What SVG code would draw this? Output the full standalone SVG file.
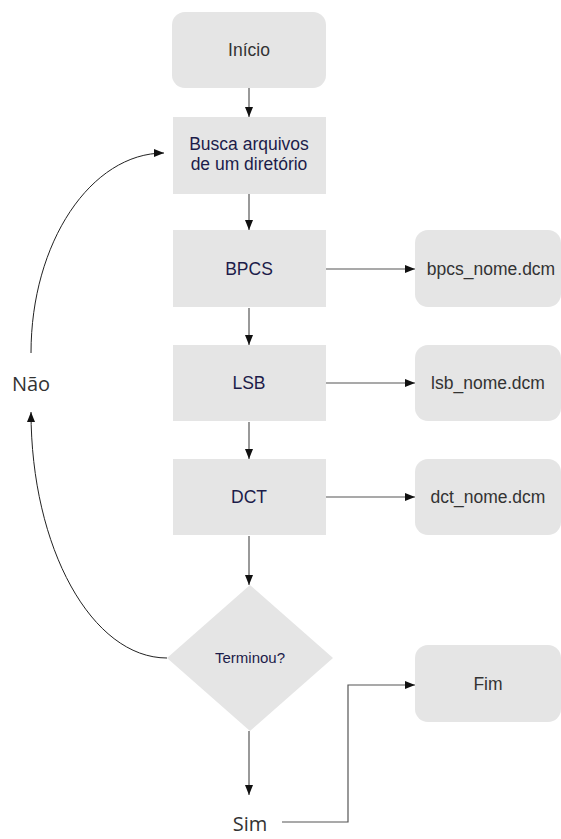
<svg xmlns="http://www.w3.org/2000/svg" width="561" height="839" viewBox="0 0 561 839">
  <defs>
    <marker id="arrow" viewBox="0 0 10 8" refX="10" refY="4" markerWidth="10" markerHeight="8" markerUnits="userSpaceOnUse" orient="auto">
      <path d="M0,0 L10,4 L0,8 Z" fill="#111"/>
    </marker>
    <style>
      .box { fill: #e5e5e5; }
      .lbl { font-family: "Liberation Sans", Arial, sans-serif; font-size: 17.5px; text-anchor: middle; }
      .navy { fill: #1c1c4a; }
      .gray { fill: #333333; }
      .side { font-family: "Open Sans", "Noto Sans", sans-serif; font-size: 20px; fill: #333333; text-anchor: middle; }
      .edge { fill: none; stroke: #555; stroke-width: 1.2; marker-end: url(#arrow); }
      .curve { fill: none; stroke: #222; stroke-width: 1; }
    </style>
  </defs>

  <rect width="561" height="839" fill="#ffffff"/>

  <!-- connectors -->
  <g id="connectors">
    <line class="edge" x1="249" y1="88" x2="249" y2="117"/>
    <line class="edge" x1="249" y1="194" x2="249" y2="230"/>
    <line class="edge" x1="249" y1="308" x2="249" y2="345"/>
    <line class="edge" x1="249" y1="422" x2="249" y2="459"/>
    <line class="edge" x1="249" y1="536" x2="249" y2="585"/>
    <line class="edge" x1="249" y1="731" x2="249" y2="795"/>
    <line class="edge" x1="326" y1="269" x2="415" y2="269"/>
    <line class="edge" x1="326" y1="383" x2="415" y2="383"/>
    <line class="edge" x1="326" y1="497" x2="415" y2="497"/>
    <path class="edge" d="M282,822 H348 V685 H415"/>
    <path class="curve" d="M31,353 C31,242.5 91,153 164,153" marker-end="url(#arrow)"/>
    <path class="curve" d="M167,658 C92,658 31,548 31,412" marker-end="url(#arrow)"/>
  </g>

  <g id="inicio">
    <rect class="box" x="172" y="12" width="154" height="76" rx="13"/>
    <text class="lbl gray" x="249" y="56">Início</text>
  </g>

  <g id="busca">
    <rect class="box" x="173" y="117" width="153" height="77"/>
    <text class="lbl navy" x="249" y="150">Busca arquivos</text>
    <text class="lbl navy" x="249" y="170">de um diretório</text>
  </g>

  <g id="bpcs">
    <rect class="box" x="173" y="230" width="153" height="77"/>
    <text class="lbl navy" x="249" y="274.5">BPCS</text>
  </g>

  <g id="lsb">
    <rect class="box" x="173" y="345" width="153" height="76"/>
    <text class="lbl navy" x="249" y="389">LSB</text>
  </g>

  <g id="dct">
    <rect class="box" x="173" y="459" width="153" height="76"/>
    <text class="lbl navy" x="249" y="503">DCT</text>
  </g>

  <g id="terminou">
    <polygon class="box" points="250,585 333,658 250,731 167,658"/>
    <text class="lbl navy" x="250" y="663" style="font-size:15px">Terminou?</text>
  </g>

  <g id="bpcs-file">
    <rect class="box" x="415" y="230" width="146" height="77" rx="13"/>
    <text class="lbl gray" x="491" y="274.5">bpcs_nome.dcm</text>
  </g>

  <g id="lsb-file">
    <rect class="box" x="415" y="345" width="146" height="76" rx="13"/>
    <text class="lbl gray" x="488" y="389">lsb_nome.dcm</text>
  </g>

  <g id="dct-file">
    <rect class="box" x="415" y="459" width="146" height="76" rx="13"/>
    <text class="lbl gray" x="488" y="503">dct_nome.dcm</text>
  </g>

  <g id="fim">
    <rect class="box" x="415" y="645" width="146" height="77" rx="13"/>
    <text class="lbl gray" x="488" y="689.5">Fim</text>
  </g>

  <g id="nao">
    <text class="side" x="31" y="391">Não</text>
  </g>

  <g id="sim">
    <text class="side" x="250" y="831">Sim</text>
  </g>
</svg>
